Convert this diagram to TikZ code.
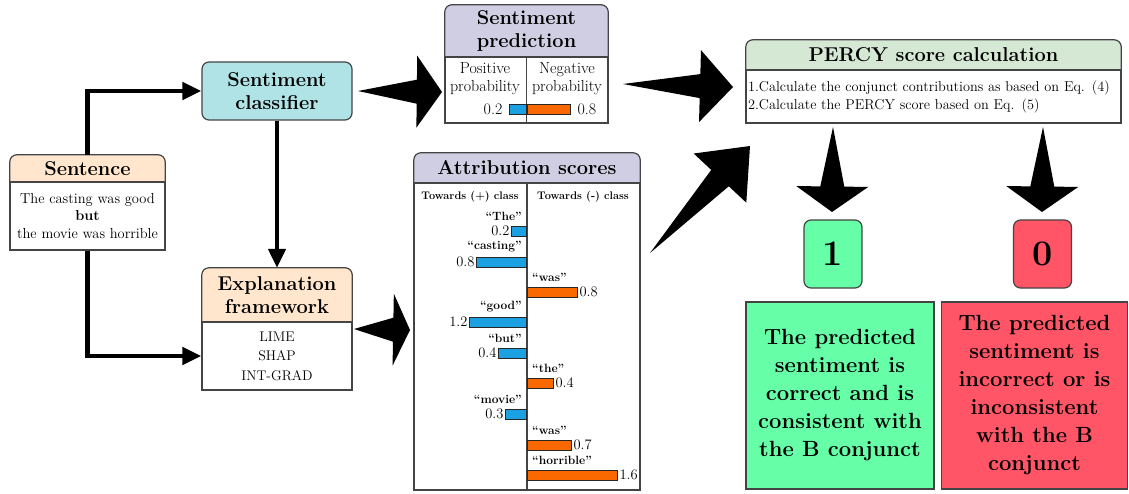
\documentclass[tikz,border=0pt]{standalone}
\usetikzlibrary{arrows.meta,calc,positioning,backgrounds}

\definecolor{peach}{HTML}{FFE6CC}
\definecolor{clfcyan}{HTML}{B0E3E6}
\definecolor{lavender}{HTML}{D0CEE2}
\definecolor{percygreen}{HTML}{D5E8D4}
\definecolor{posblue}{HTML}{1BA1E2}
\definecolor{negorange}{HTML}{FA6800}
\definecolor{goodgreen}{HTML}{66FFA8}
\definecolor{badred}{HTML}{FF5566}
\definecolor{edgegray}{HTML}{444444}

\tikzset{
  boxline/.style={draw=edgegray, line width=1.2pt},
  headbox/.style={align=center, inner sep=0pt, font=\fontsize{20}{23}\selectfont\bfseries},
  roundbox/.style={headbox, boxline, rounded corners=7pt},
  bodybox/.style={boxline, fill=white, align=center, inner sep=0pt,
    font=\fontsize{14.5}{17.5}\selectfont},
  plain/.style={align=center, inner sep=0pt, font=\fontsize{16}{18}\selectfont},
  colhead/.style={inner sep=0pt, font=\fontsize{11}{13}\selectfont\bfseries},
  word/.style={inner sep=0pt, font=\fontsize{12}{14}\selectfont\bfseries},
  score/.style={inner sep=1.5pt, font=\fontsize{14.5}{16}\selectfont},
  posbar/.style={draw=black!85, line width=0.9pt, fill=posblue, minimum height=10pt, inner sep=0pt},
  negbar/.style={draw=black!85, line width=0.9pt, fill=negorange, minimum height=10pt, inner sep=0pt},
  verdict/.style={font=\fontsize{22}{28}\selectfont\bfseries},
  digit/.style={font=\fontsize{36}{40}\selectfont\bfseries},
  flow/.style={line width=4.5pt, ->},
}

% panel behind a header: round top, square bottom
\newcommand{\headpanel}[2]{%
  \begin{pgfonlayer}{background}
    \fill[#2, rounded corners=7pt] (#1.south west) -- (#1.north west) -- (#1.north east) -- (#1.south east);
  \end{pgfonlayer}
  \draw[boxline, rounded corners=7pt] (#1.south west) -- (#1.north west) -- (#1.north east) -- (#1.south east);}

% big dart from #1 (tail) to #2 (tip)
\newcommand{\fatarrow}[2]{%
  \fill (#1) -- ($(#1)!0.7!(#2)!12pt!90:(#2)$) -- ($(#1)!0.7!(#2)!36pt!90:(#2)$)
    -- (#2) -- ($(#1)!0.7!(#2)!36pt!-90:(#2)$) -- ($(#1)!0.7!(#2)!12pt!-90:(#2)$) -- cycle;}

\begin{document}
\begin{tikzpicture}[x=1pt,y=-1pt,>={Triangle[length=19pt,width=17pt]},line join=miter]
\useasboundingbox (0,0) rectangle (1129,494);
%%
  % Node: Sentence
  \node[headbox, minimum width=155, minimum height=27] (sent) at (87.5,168.5) {Sentence};
  \headpanel{sent}{peach}
  \node[bodybox, minimum width=155, minimum height=68] (sentbody) at (87.5,216)
    {The casting was good\\\textbf{but}\\the movie was horrible};
  % Node: Sentiment_classifier
  \node[roundbox, fill=clfcyan, minimum width=150, minimum height=58] (clf) at (277,91) {Sentiment\\classifier};
  % Node: Explanation_framework
  \node[headbox, minimum width=150, minimum height=54] (expl) at (277,295) {Explanation\\framework};
  \headpanel{expl}{peach}
  \node[bodybox, font=\fontsize{14}{19.5}\selectfont, minimum width=150, minimum height=68] (explbody) at (277,356)
    {LIME\\SHAP\\INT-GRAD};
  % Node: Sentiment_prediction
  \node[headbox, minimum width=163, minimum height=52] (pred) at (526.5,31) {Sentiment\\prediction};
  \headpanel{pred}{lavender}
  \node[bodybox, minimum width=163, minimum height=66] (predbody) at (526.5,90) {};
  \draw[boxline] (predbody.north) -- (predbody.south);
  \node[plain] (pos) at (485,79) {Positive\\probability};
  \node[plain] (neg) at (567,79) {Negative\\probability};
  \node[posbar, minimum width=17, anchor=east] (posp) at (527,109) {};
  \node[negbar, minimum width=43, anchor=west] (negp) at (527,109) {};
  \node[score, font=\fontsize{16}{18}\selectfont, anchor=east] at ($(posp.west)+(-5,0)$) {0.2};
  \node[score, font=\fontsize{16}{18}\selectfont, anchor=west] at ($(negp.east)+(5,0)$) {0.8};
  % Node: Attribution_scores
  \node[headbox, minimum width=226, minimum height=30] (attr) at (527,168) {Attribution scores};
  \headpanel{attr}{lavender}
  \node[bodybox, minimum width=226, minimum height=307] (attrbody) at (527,336.5) {};
  \draw[boxline] (attrbody.north) -- (attrbody.south);
  \node[colhead] at (470,197) {Towards (+) class};
  \node[colhead] at (583,197) {Towards (-) class};
  \foreach \i/\w/\v/\len/\y in {1/The/0.2/15/231, 2/casting/0.8/50/262, 4/good/1.2/57/322,
                                5/but/0.4/28/353, 7/movie/0.3/21/414}{
    \node[posbar, minimum width=\len, anchor=east] (bar\i) at (527,\y) {};
    \node[score, anchor=east] at (bar\i.west) {\v};
    \node[word, anchor=east] at (522,\y-15) {``\w''};
  }
  \foreach \i/\w/\v/\len/\y in {3/was/0.8/50/292, 6/the/0.4/26/383, 8/was/0.7/44/445,
                                9/horrible/1.6/90/475}{
    \node[negbar, minimum width=\len, anchor=west] (bar\i) at (527,\y) {};
    \node[score, anchor=west] at (bar\i.east) {\v};
    \node[word, anchor=west] at (532,\y-15) {``\w''};
  }
  % Node: PERCY_score
  \node[headbox, minimum width=375, minimum height=30] (percy) at (933.5,55) {PERCY score calculation};
  \headpanel{percy}{percygreen}
  \node[bodybox, font=\fontsize{14.3}{18}\selectfont, align=left, text width=371, minimum width=375, minimum height=53]
    (percybody) at (933.5,96.5)
    {1.Calculate the conjunct contributions as based on Eq. (4)\\2.Calculate the PERCY score based on Eq. (5)};
  % Node: One / Zero
  \node[roundbox, digit, fill=goodgreen, minimum width=58, minimum height=68] (one) at (833,254) {1};
  \node[roundbox, digit, fill=badred, minimum width=58, minimum height=68] (zero) at (1042.5,254) {0};
  % Node: Verdicts
  \node[bodybox, verdict, fill=goodgreen, minimum width=188, minimum height=187] (good) at (840,395.5)
    {The predicted\\sentiment is\\correct and is\\consistent with\\the B conjunct};
  \node[bodybox, verdict, fill=badred, minimum width=186, minimum height=187] (bad) at (1034.5,395.5)
    {The predicted\\sentiment is\\incorrect or is\\inconsistent\\with the B\\conjunct};
%%
  % Edge: Sentence -> Sentiment_classifier
  \draw[flow] (sent.north) |- (clf.west);
  % Edge: Sentence -> Explanation_framework
  \draw[flow] (sentbody.south) |- (explbody.west);
  % Edge: Sentiment_classifier -> Explanation_framework
  \draw[flow] (clf.south) -- (expl.north);
  % big darts
  \coordinate (clf-out) at (358,91);
  \coordinate (pred-in) at (442,92);
  \coordinate (pred-out) at (623,84);
  \coordinate (percy-in) at (733,87);
  \coordinate (attr-out) at (650,253);
  \coordinate (percy-in2) at (750,146);
  \coordinate (expl-out) at (354,329);
  \coordinate (attr-in) at (410,330);
  \coordinate (percy-one) at (833,127);
  \coordinate (one-in) at (832,212);
  \coordinate (percy-zero) at (1043,127);
  \coordinate (zero-in) at (1042,212);
  % Edge: Sentiment_classifier -> Sentiment_prediction
  \fatarrow{clf-out}{pred-in}
  % Edge: Sentiment_prediction -> PERCY_score
  \fatarrow{pred-out}{percy-in}
  % Edge: Attribution_scores -> PERCY_score
  \fatarrow{attr-out}{percy-in2}
  % Edge: Explanation_framework -> Attribution_scores
  \fatarrow{expl-out}{attr-in}
  % Edge: PERCY_score -> One
  \fatarrow{percy-one}{one-in}
  % Edge: PERCY_score -> Zero
  \fatarrow{percy-zero}{zero-in}
%
\end{tikzpicture}
\end{document}
